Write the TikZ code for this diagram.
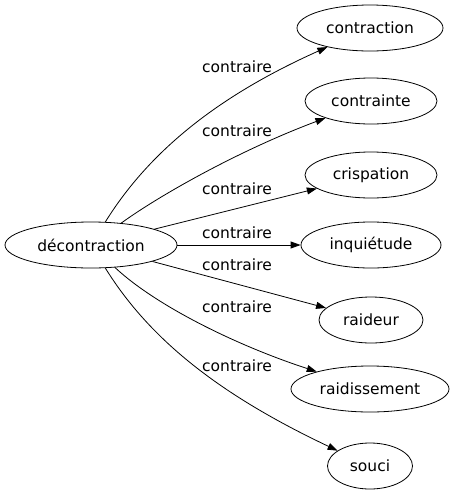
\documentclass[tikz,border=0pt]{standalone}
\usepackage{fontspec}
\setmainfont{DejaVu Sans}
\usetikzlibrary{shapes.geometric, arrows.meta}
\tikzset{every node/.style={align=center, font=\fontsize{15.5}{18}\selectfont}}
\tikzset{word/.style={draw, ellipse, line width=0.8pt, inner sep=0pt, minimum height=46pt}}
\tikzset{rel/.style={line width=0.8pt, black, -{Triangle[length=10pt, width=7pt]}}}
\tikzset{lab/.style={inner sep=0pt}}

\begin{document}
\begin{tikzpicture}[x=1pt, y=-1pt]

		\useasboundingbox (0,0) rectangle (456,491);

		% Nodes
		%% Left
		\node[word, minimum width=172pt] (decontraction) at (91,245) {décontraction};
		%% Right
		\node[word, minimum width=146pt] (contraction) at (370,28) {contraction};
		\node[word, minimum width=132pt] (contrainte) at (371,101) {contrainte};
		\node[word, minimum width=132pt] (crispation) at (371,175) {crispation};
		\node[word, minimum width=140pt] (inquietude) at (371,245) {inquiétude};
		\node[word, minimum width=104pt] (raideur) at (371,320) {raideur};
		\node[word, minimum width=158pt] (raidissement) at (370,389) {raidissement};
		\node[word, minimum width=85pt] (souci) at (370,466) {souci};

		% Edges
		\draw[rel] (decontraction) .. controls (150,150) and (220,95) .. (contraction);
		\draw[rel] (decontraction) .. controls (160,195) and (240,150) .. (contrainte);
		\draw[rel] (decontraction) -- (crispation);
		\draw[rel] (decontraction) -- (inquietude);
		\draw[rel] (decontraction) -- (raideur);
		\draw[rel] (decontraction) .. controls (155,305) and (235,345) .. (raidissement);
		\draw[rel] (decontraction) .. controls (150,340) and (220,395) .. (souci);

		% Labels
		\node[lab] (l1) at (237,67) {contraire};
		\node[lab] (l2) at (237,131) {contraire};
		\node[lab] (l3) at (237,189) {contraire};
		\node[lab] (l4) at (237,233) {contraire};
		\node[lab] (l5) at (237,265) {contraire};
		\node[lab] (l6) at (237,307) {contraire};
		\node[lab] (l7) at (237,366) {contraire};
	\end{tikzpicture}
\end{document}
